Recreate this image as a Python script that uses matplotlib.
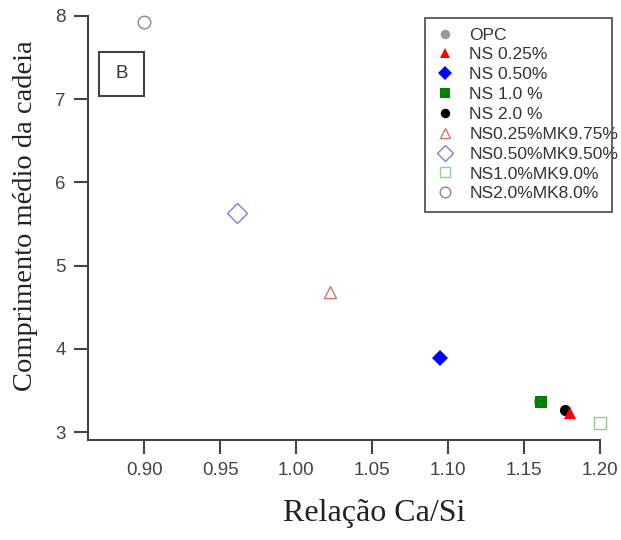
import matplotlib
matplotlib.use("Agg")
import matplotlib.pyplot as plt
from matplotlib.patches import Rectangle

labels = ["OPC", "NS 0.25%", "NS 0.50%", "NS 1.0 %", "NS 2.0 %",
          "NS0.25%MK9.75%", "NS0.50%MK9.50%", "NS1.0%MK9.0%", "NS2.0%MK8.0%"]
ca_si = [1.160, 1.180, 1.095, 1.161, 1.177, 1.022, 0.961, 1.200, 0.900]
chain = [3.37, 3.23, 3.89, 3.36, 3.26, 4.68, 5.63, 3.11, 7.93]
markers = ["o", "^", "D", "s", "o", "^", "D", "s", "o"]
colors = ["#999999", "#ff0000", "#0000ff", "#008000", "#000000",
          "#e07070", "#7f7fe0", "#90d090", "#888888"]
filled = [True, True, True, True, True, False, False, False, False]
sizes = [8, 8, 8, 8, 8, 9, 10, 9, 9]

W, H = 621, 540
fig = plt.figure(figsize=(W / 100, H / 100), dpi=100)
ax = fig.add_axes([88/W, 100/H, 512/W, 424/H])

order = [0, 3, 4, 1, 2, 5, 6, 7, 8]
handles = {}
for i in order:
    if filled[i]:
        h, = ax.plot(ca_si[i], chain[i], linestyle="none", marker=markers[i],
                     color=colors[i], markersize=sizes[i], markeredgewidth=0,
                     label=labels[i], clip_on=False)
    else:
        h, = ax.plot(ca_si[i], chain[i], linestyle="none", marker=markers[i],
                     markerfacecolor="white", markeredgecolor=colors[i],
                     markersize=sizes[i], markeredgewidth=1.0,
                     label=labels[i], clip_on=False)
    handles[i] = h

ax.set_xlim(0.863, 1.20)
ax.set_ylim(2.904, 8.0)
ax.set_xticks([0.90, 0.95, 1.00, 1.05, 1.10, 1.15, 1.20])
ax.set_xticklabels(["0.90", "0.95", "1.00", "1.05", "1.10", "1.15", "1.20"])
ax.set_yticks([3, 4, 5, 6, 7, 8])

for s in ["top", "right"]:
    ax.spines[s].set_visible(False)
for s in ["left", "bottom"]:
    ax.spines[s].set_color("#444444")
    ax.spines[s].set_linewidth(1.5)
ax.tick_params(axis="both", direction="out", length=10, width=1.5,
               color="#444444", labelsize=13.5, labelcolor="#444444", pad=6)
for lab in ax.get_xticklabels() + ax.get_yticklabels():
    lab.set_family("Liberation Sans")

ax.set_xlabel("Relação Ca/Si", family="Liberation Serif", fontsize=23,
              color="#222222")
ax.xaxis.set_label_coords((374 - 88) / 512, -(513 - 440) / 424)
ax.xaxis.label.set_va("center")
ax.set_ylabel("Comprimento médio da cadeia", family="Liberation Serif",
              fontsize=20.5, color="#222222")
ax.yaxis.set_label_coords(-(88 - 26) / 512, (440 - 216) / 424)
ax.yaxis.label.set_va("center")

leg = ax.legend([handles[i] for i in range(9)], labels, loc="upper left",
                bbox_to_anchor=((431 - 88) / 512, (440 - 24) / 424),
                frameon=False, handletextpad=0.8, borderpad=0.2,
                labelspacing=0.27, handlelength=1.2, markerscale=0.85,
                borderaxespad=0,
                prop={"family": "Liberation Sans", "size": 12.5})
for t in leg.get_texts():
    t.set_color("#333333")

fig.patches.append(Rectangle((425 / W, 1 - 212 / H), 187 / W, 194 / H,
                             transform=fig.transFigure, fill=False,
                             edgecolor="#555555", linewidth=1.3, zorder=0))

ax.add_patch(Rectangle(((99 - 88) / 512, (440 - 96) / 424), 45 / 512, 44 / 424,
                       transform=ax.transAxes, facecolor="white",
                       edgecolor="#444444", linewidth=1.5))
ax.text((122 - 88) / 512, (440 - 74) / 424, "B", transform=ax.transAxes,
        ha="center", va="center", family="Liberation Sans", fontsize=13.5,
        color="#333333")

fig.savefig("out.png", dpi=100)
